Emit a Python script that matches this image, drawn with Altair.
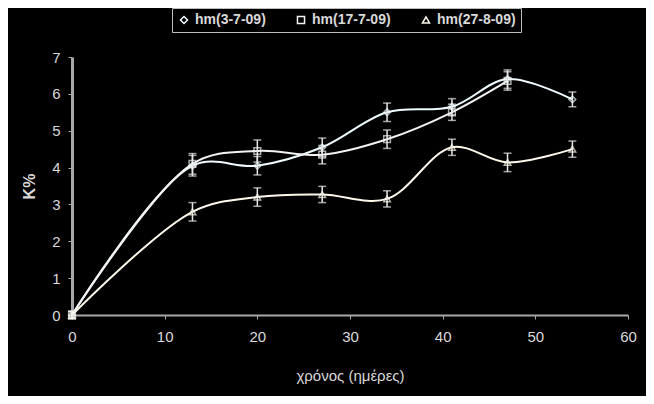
import altair as alt
import pandas as pd

days = [0, 13, 20, 27, 34, 41, 47, 54]
series_names = ["hm(3-7-09)", "hm(17-7-09)", "hm(27-8-09)"]
s1 = [0.0, 4.05, 4.05, 4.55, 5.50, 5.65, 6.40, 5.85]
s2 = [0.0, 4.10, 4.45, 4.35, 4.77, 5.50, 6.35]
s3 = [0.0, 2.80, 3.20, 3.27, 3.15, 4.55, 4.14, 4.50]
e1 = [0.10, 0.28, 0.25, 0.25, 0.25, 0.22, 0.25, 0.20]
e2 = [0.10, 0.28, 0.30, 0.25, 0.25, 0.22, 0.25]
e3 = [0.10, 0.25, 0.25, 0.22, 0.22, 0.22, 0.25, 0.22]
x_ticks = [0, 10, 20, 30, 40, 50, 60]
y_ticks = [0, 1, 2, 3, 4, 5, 6, 7]

rows = []
for name, vals, errs in zip(series_names, [s1, s2, s3], [e1, e2, e3]):
    for d, v, e in zip(days, vals, errs):
        rows.append({"day": d, "val": v, "low": v - e, "high": v + e, "series": name})
df = pd.DataFrame(rows)

fg = "#d9d9d9"
color_scale = alt.Scale(domain=series_names, range=["#eefcff", "#f2f2f2", "#fdf8ea"])
shape_scale = alt.Scale(domain=series_names, range=["diamond", "square", "triangle-up"])

x_axis = alt.Axis(values=x_ticks, grid=False,
                  domainColor="#a8a8a8", domainWidth=2, tickColor="#a8a8a8",
                  tickSize=4, labelColor=fg, titleColor=fg, labelFontSize=15,
                  titleFontSize=15, labelPadding=10, titlePadding=24,
                  labelFont="Liberation Sans", titleFont="Liberation Sans",
                  labelOverlap=False, labelFlush=False, titleFontWeight="normal")
y_axis = alt.Axis(values=y_ticks, grid=False,
                  domainColor="#a8a8a8", domainWidth=3, tickColor="#a8a8a8",
                  tickSize=4, labelColor=fg, titleColor=fg, labelFontSize=15,
                  titleFontSize=16, labelPadding=8, titlePadding=14,
                  labelFont="Liberation Sans", titleFont="Liberation Sans",
                  labelOverlap=False, labelFlush=False, titleFontWeight="bold")
x_scale = alt.Scale(domain=[0, 60], nice=False)
y_scale = alt.Scale(domain=[0, 7], nice=False)

def X():
    return alt.X("day:Q", title="χρόνος (ημέρες)", scale=x_scale, axis=x_axis)

def Y(field):
    return alt.Y(field, title="K%", scale=y_scale, axis=y_axis)

base = alt.Chart(df)

color = alt.Color("series:N", scale=color_scale,
                  legend=alt.Legend(title=None, orient="none", direction="horizontal",
                                    legendX=100, legendY=-49, strokeColor="#bdbdbd",
                                    padding=5, labelColor=fg, labelFontSize=14,
                                    labelFontWeight="bold",
                                    labelFont="Liberation Sans", symbolStrokeColor="#f0f0f0",
                                    symbolSize=50, columnPadding=28, symbolStrokeWidth=1.5))
shape = alt.Shape("series:N", scale=shape_scale, legend=None)

lines = base.mark_line(interpolate="catmull-rom", strokeWidth=2).encode(
    x=X(), y=Y("val:Q"), color=color, detail="series:N")

err = base.mark_rule(color="#e6e6e6", strokeWidth=1.5).encode(
    x=X(), y=Y("low:Q"), y2="high:Q")
cap_lo = base.mark_tick(color="#e6e6e6", thickness=1.5, size=8, orient="horizontal").encode(
    x=X(), y=Y("low:Q"))
cap_hi = base.mark_tick(color="#e6e6e6", thickness=1.5, size=8, orient="horizontal").encode(
    x=X(), y=Y("high:Q"))

points = base.mark_point(filled=False, size=45, strokeWidth=1.5).encode(
    x=X(), y=Y("val:Q"), color=alt.Color("series:N", scale=color_scale, legend=None),
    shape=shape)

chart = alt.layer(lines, err, cap_lo, cap_hi, points).properties(
    width=556, height=258,
    background="black",
    autosize=alt.AutoSizeParams(type="none"),
    padding={"left": 64, "top": 49, "right": 18, "bottom": 81},
).configure_view(stroke=None)

chart.save("out.html", embed_options={"renderer": "svg", "actions": False})
